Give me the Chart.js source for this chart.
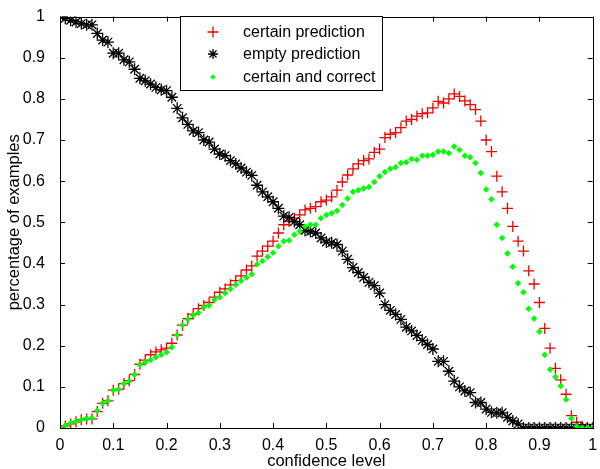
<!DOCTYPE html>
<html><head><meta charset="utf-8">
<script src="https://cdn.jsdelivr.net/npm/chart.js@4/dist/chart.umd.min.js"></script>
<style>html,body{margin:0;padding:0;background:#fff}#wrap{width:600px;height:469px;position:relative}</style>
</head><body><div id="wrap"><canvas id="c" width="600" height="469"></canvas></div>
<script>
// confidence level grid (x)
const confidenceLevels = [
  0.00,0.01,0.02,0.03,0.04,0.05,0.06,0.07,0.08,0.09,
  0.10,0.11,0.12,0.13,0.14,0.15,0.16,0.17,0.18,0.19,
  0.20,0.21,0.22,0.23,0.24,0.25,0.26,0.27,0.28,0.29,
  0.30,0.31,0.32,0.33,0.34,0.35,0.36,0.37,0.38,0.39,
  0.40,0.41,0.42,0.43,0.44,0.45,0.46,0.47,0.48,0.49,
  0.50,0.51,0.52,0.53,0.54,0.55,0.56,0.57,0.58,0.59,
  0.60,0.61,0.62,0.63,0.64,0.65,0.66,0.67,0.68,0.69,
  0.70,0.71,0.72,0.73,0.74,0.75,0.76,0.77,0.78,0.79,
  0.80,0.81,0.82,0.83,0.84,0.85,0.86,0.87,0.88,0.89,
  0.90,0.91,0.92,0.93,0.94,0.95,0.96,0.97,0.98,0.99,1.00
];
const certainPrediction = [
  0,0.005,0.01,0.015,0.02,0.022,0.022,0.04,0.06,0.066,
  0.092,0.094,0.108,0.115,0.13,0.155,0.165,0.178,0.185,0.19,
  0.194,0.206,0.226,0.25,0.266,0.277,0.29,0.298,0.305,0.318,
  0.33,0.338,0.348,0.358,0.37,0.384,0.394,0.418,0.43,0.442,
  0.454,0.474,0.494,0.502,0.51,0.518,0.53,0.534,0.538,0.55,
  0.554,0.562,0.578,0.598,0.615,0.63,0.642,0.65,0.654,0.67,
  0.678,0.706,0.714,0.718,0.73,0.746,0.75,0.758,0.764,0.766,
  0.778,0.794,0.79,0.8,0.812,0.806,0.795,0.786,0.774,0.746,
  0.70,0.672,0.612,0.574,0.534,0.49,0.454,0.43,0.382,0.35,
  0.305,0.242,0.194,0.145,0.117,0.082,0.03,0.014,0.004,0,0
];
const emptyPrediction = [
  1.0,0.996,0.991,0.987,0.983,0.98,0.98,0.959,0.943,0.938,
  0.911,0.911,0.895,0.89,0.872,0.85,0.844,0.836,0.828,0.822,
  0.82,0.804,0.777,0.754,0.738,0.722,0.718,0.70,0.695,0.678,
  0.666,0.662,0.65,0.642,0.632,0.622,0.614,0.59,0.574,0.562,
  0.55,0.534,0.515,0.512,0.502,0.494,0.48,0.478,0.474,0.462,
  0.452,0.45,0.446,0.43,0.41,0.39,0.378,0.366,0.354,0.346,
  0.328,0.30,0.286,0.276,0.264,0.245,0.236,0.225,0.213,0.203,
  0.192,0.162,0.162,0.138,0.114,0.10,0.09,0.086,0.062,0.062,
  0.046,0.038,0.037,0.037,0.026,0.017,0.01,0,0,0,
  0,0,0,0,0,0,0,0,0,0,0
];
const certainAndCorrect = [
  0,0.006,0.012,0.016,0.02,0.024,0.024,0.042,0.06,0.066,
  0.092,0.094,0.108,0.114,0.13,0.154,0.16,0.165,0.172,0.178,
  0.184,0.196,0.226,0.25,0.264,0.274,0.28,0.294,0.298,0.312,
  0.318,0.328,0.338,0.348,0.358,0.366,0.374,0.398,0.406,0.416,
  0.426,0.442,0.454,0.456,0.47,0.478,0.49,0.494,0.494,0.51,
  0.518,0.522,0.528,0.542,0.558,0.574,0.578,0.582,0.586,0.598,
  0.612,0.622,0.63,0.634,0.644,0.646,0.654,0.652,0.662,0.662,
  0.664,0.672,0.672,0.668,0.684,0.676,0.662,0.658,0.644,0.62,
  0.58,0.556,0.494,0.462,0.424,0.392,0.352,0.33,0.29,0.266,
  0.234,0.178,0.142,0.124,0.102,0.069,0.023,0.004,0,0,0
];
const xTickLabels = ['0','0.1','0.2','0.3','0.4','0.5','0.6','0.7','0.8','0.9','1'];
const yTickLabels = ['0','0.1','0.2','0.3','0.4','0.5','0.6','0.7','0.8','0.9','1'];
const seriesNames = ['certain prediction','empty prediction','certain and correct'];

const FONT = "'Liberation Sans', Arial, sans-serif";
const pts = arr => arr.map((v,i)=>({x:confidenceLevels[i], y:v}));

const datasets = [
  {label:seriesNames[0], data:pts(certainPrediction), pointStyle:'cross', pointRadius:5.5,
   borderColor:'#ee0000', backgroundColor:'#ee0000', pointBorderWidth:1.3, order:3},
  {label:seriesNames[1], data:pts(emptyPrediction), pointStyle:'star', pointRadius:6,
   borderColor:'#000', backgroundColor:'#000', pointBorderWidth:1.3, order:2},
  {label:seriesNames[2], data:pts(certainAndCorrect), pointStyle:'rectRot', pointRadius:3,
   borderColor:'#00ee00', backgroundColor:'#00ff00', pointBorderWidth:0.5, order:1}
];

const framePlugin = {
  id:'frame',
  afterDraw(chart){
    const ctx = chart.ctx;
    const {left,right,top,bottom} = chart.chartArea;
    const xs = chart.scales.x, ys = chart.scales.y;
    ctx.save();
    ctx.strokeStyle = '#000'; ctx.lineWidth = 1;
    ctx.strokeRect(Math.round(left)+0.5, Math.round(top)+0.5, Math.round(right-left), Math.round(bottom-top));
    ctx.beginPath();
    xs.ticks.forEach(t=>{
      const p = Math.round(xs.getPixelForValue(t.value))+0.5;
      ctx.moveTo(p,bottom); ctx.lineTo(p,bottom-5);
      ctx.moveTo(p,top); ctx.lineTo(p,top+5);
    });
    ys.ticks.forEach(t=>{
      const p = Math.round(ys.getPixelForValue(t.value))+0.5;
      ctx.moveTo(left,p); ctx.lineTo(left+5,p);
      ctx.moveTo(right,p); ctx.lineTo(right-5,p);
    });
    ctx.stroke();
    // legend
    const lx=180.5, ly=16.5, lw=202, lh=74;
    ctx.fillStyle='#fff'; ctx.fillRect(lx,ly,lw,lh);
    ctx.strokeRect(lx,ly,lw,lh);
    const rows=[32,54,77];
    chart.data.datasets.forEach((ds,i)=>{
      ctx.strokeStyle = ds.borderColor; ctx.fillStyle = ds.backgroundColor;
      ctx.lineWidth = ds.pointBorderWidth;
      Chart.helpers.drawPoint(ctx,{pointStyle:ds.pointStyle, radius:ds.pointStyle==='rectRot'?2.5:(ds.pointStyle==='star'?5:5.5), borderWidth:ds.pointBorderWidth, rotation:0}, 213, rows[i]);
      ctx.fillStyle='#000';
      ctx.font = '16px '+FONT;
      ctx.textBaseline='middle'; ctx.textAlign='left';
      ctx.fillText(seriesNames[i], 243, rows[i]+1);
    });
    ctx.restore();
  }
};

new Chart(document.getElementById('c'), {
  type:'scatter',
  data:{datasets},
  plugins:[framePlugin],
  options:{
    responsive:false, animation:false, devicePixelRatio:1,
    layout:{padding:{top:10,right:5,left:0,bottom:0}},
    plugins:{legend:{display:false}, tooltip:{enabled:false}},
    scales:{
      x:{type:'linear', min:0, max:1,
        ticks:{stepSize:0.1, autoSkip:false, maxRotation:0, color:'#000', padding:0,
          font:{size:16, family:FONT}, callback:(v,i)=>xTickLabels[i]},
        grid:{display:false}, border:{display:false},
        title:{display:true, text:'confidence level', color:'#000', font:{size:16.5, family:FONT, lineHeight:0.9}, padding:{top:0,bottom:0}},
        afterFit(s){ s.height = 41; }
      },
      y:{type:'linear', min:0, max:1,
        ticks:{stepSize:0.1, autoSkip:false, color:'#000', padding:7,
          font:{size:16, family:FONT}, callback:(v,i)=>yTickLabels[i]},
        grid:{display:false}, border:{display:false},
        title:{display:true, text:'percentage of examples', color:'#000', font:{size:16.5, family:FONT}, padding:{top:5,bottom:0}},
        afterFit(s){ s.width = 60; }
      }
    }
  }
});
</script></body></html>
